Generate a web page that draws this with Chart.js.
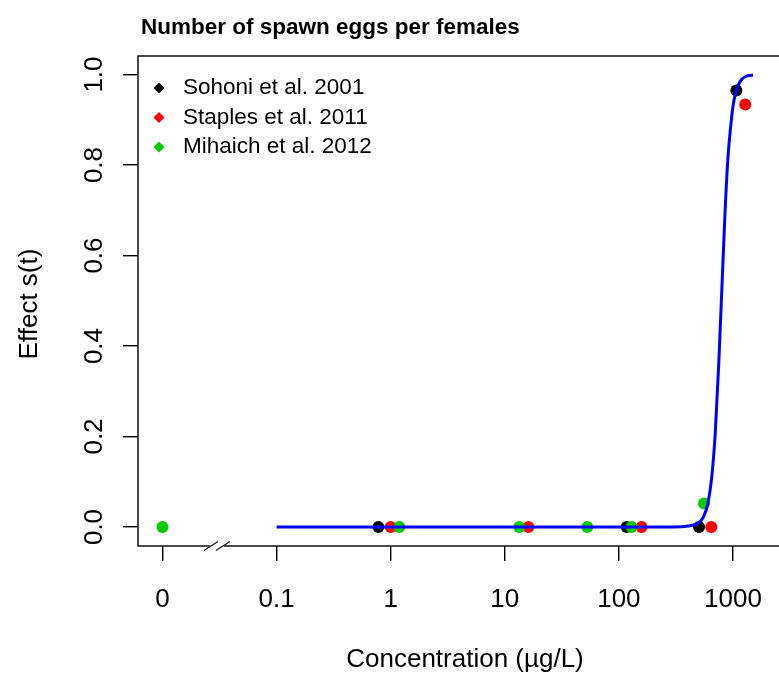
<!DOCTYPE html>
<html>
<head>
<meta charset="utf-8">
<script src="https://cdn.jsdelivr.net/npm/chart.js@4/dist/chart.umd.min.js"></script>
<style>
  html, body { margin: 0; padding: 0; background: #fff; overflow: hidden; }
  #wrap { width: 800px; height: 675px; }
</style>
</head>
<body>
<div id="wrap"><canvas id="c" width="800" height="675"></canvas></div>
<script>
// Observed effect on egg production, by study
const seriesNames = ['Sohoni et al. 2001', 'Staples et al. 2011', 'Mihaich et al. 2012'];
const sohoniConc = [0.78, 117, 504, 1070];
const sohoniEffect = [0, 0, 0, 0.965];
const staplesConc = [1.0, 16.1, 158, 645, 1280];
const staplesEffect = [0, 0, 0, 0, 0.934];
const mihaichConc = [0, 1.19, 13.4, 52.9, 129, 557];
const mihaichEffect = [0, 0, 0, 0, 0, 0.052];

// Fitted concentration-response curve
const fitConc = [0.1, 1, 10, 100, 300, 400, 500, 550, 600, 650, 700, 750, 800, 850, 900, 950, 1000, 1050, 1100, 1200, 1300, 1400, 1500];
const fitEffect = [0, 0, 0, 0, 0, 0.002, 0.009, 0.022, 0.05, 0.108, 0.21, 0.36, 0.53, 0.69, 0.81, 0.88, 0.93, 0.958, 0.974, 0.99, 0.996, 0.998, 0.999];

// Axis ticks
const xTickValues = [0, 0.1, 1, 10, 100, 1000];
const xTickLabels = ['0', '0.1', '1', '10', '100', '1000'];
const yTickValues = [0, 0.2, 0.4, 0.6, 0.8, 1.0];
const yTickLabels = ['0.0', '0.2', '0.4', '0.6', '0.8', '1.0'];

const seriesColors = ['#000000', '#ff0000', '#00cd00'];
const FONT = '"Liberation Sans", Arial, sans-serif';

// A zero concentration cannot sit on a log axis: it is drawn one decade
// below 0.1, with an axis break between it and the rest of the scale.
const ZERO_AT = 0.01;
const BREAK_AT = 0.03;
const toAxis = v => (v === 0 ? ZERO_AT : v);

const pts = (xs, ys) => xs.map((x, i) => ({ x: toAxis(x), y: ys[i] }));

const pointSets = [
  [sohoniConc, sohoniEffect],
  [staplesConc, staplesEffect],
  [mihaichConc, mihaichEffect]
].map(([xs, ys], i) => ({
  label: seriesNames[i],
  data: pts(xs, ys),
  backgroundColor: seriesColors[i],
  borderWidth: 0,
  pointRadius: 6,
  pointHoverRadius: 6,
  order: 3 - i
}));

const fitSet = {
  label: 'fit',
  data: pts(fitConc, fitEffect),
  showLine: true,
  borderColor: '#0000ff',
  borderWidth: 3,
  pointRadius: 0,
  cubicInterpolationMode: 'monotone',
  order: 0
};

const decorations = {
  id: 'decorations',
  afterDraw(chart) {
    const ctx = chart.ctx;
    const a = chart.chartArea;
    const xs = chart.scales.x, ys = chart.scales.y;
    ctx.save();

    // plot frame
    ctx.strokeStyle = '#000';
    ctx.lineWidth = 1.4;
    ctx.strokeRect(a.left, a.top, a.right - a.left, a.bottom - a.top);

    // axis break on the x axis
    const bx = xs.getPixelForValue(BREAK_AT);
    ctx.fillStyle = '#fff';
    ctx.fillRect(bx - 7, a.bottom - 2, 14, 4);
    ctx.strokeStyle = '#222';
    ctx.lineWidth = 1.4;
    [-6, 6].forEach(off => {
      ctx.beginPath();
      ctx.moveTo(bx + off - 7, a.bottom + 4.5);
      ctx.lineTo(bx + off + 7, a.bottom - 4.5);
      ctx.stroke();
    });

    // tick labels
    ctx.fillStyle = '#000';
    ctx.font = '26px ' + FONT;
    ctx.textAlign = 'center';
    ctx.textBaseline = 'middle';
    xs.ticks.forEach((t, i) => {
      ctx.fillText(xTickLabels[i], xs.getPixelForValue(t.value), 600);
    });
    ys.ticks.forEach((t, i) => {
      const py = ys.getPixelForValue(t.value);
      ctx.save();
      ctx.translate(95, py);
      ctx.rotate(-Math.PI / 2);
      ctx.fillText(yTickLabels[i], 0, 0);
      ctx.restore();
    });

    // axis titles
    ctx.fillText('Concentration (\u00b5g/L)', (a.left + a.right) / 2, 660);
    ctx.save();
    ctx.translate(30, (a.top + a.bottom) / 2 + 3);
    ctx.rotate(-Math.PI / 2);
    ctx.fillText('Effect s(t)', 0, 0);
    ctx.restore();

    // plot title
    ctx.font = 'bold 22.5px ' + FONT;
    ctx.textAlign = 'left';
    ctx.fillText('Number of spawn eggs per females', a.left + 3, 28);

    // legend
    ctx.font = '22.5px ' + FONT;
    pointSets.forEach((ds, i) => {
      const ly = 88 + i * 29.5;
      const lx = 159;
      ctx.fillStyle = ds.backgroundColor;
      ctx.beginPath();
      ctx.moveTo(lx, ly - 5.5);
      ctx.lineTo(lx + 5.5, ly);
      ctx.lineTo(lx, ly + 5.5);
      ctx.lineTo(lx - 5.5, ly);
      ctx.closePath();
      ctx.fill();
      ctx.fillStyle = '#000';
      ctx.fillText(ds.label, 183, ly);
    });
    ctx.restore();
  }
};

const tickGrid = {
  display: true,
  drawOnChartArea: false,
  drawTicks: true,
  tickLength: 15,
  color: '#000',
  lineWidth: 1.4
};

new Chart(document.getElementById('c'), {
  type: 'scatter',
  data: { datasets: [fitSet, ...pointSets] },
  options: {
    responsive: false,
    animation: false,
    devicePixelRatio: 1,
    layout: { padding: { top: 56, left: 0, right: 8, bottom: 0 } },
    plugins: { legend: { display: false }, tooltip: { enabled: false }, title: { display: false } },
    scales: {
      x: {
        type: 'logarithmic',
        min: 0.0061,
        max: 3290,
        afterBuildTicks: s => { s.ticks = xTickValues.map(v => ({ value: toAxis(v) })); },
        ticks: { display: false },
        grid: tickGrid,
        border: { display: false },
        afterFit: s => { s.height = 129; }
      },
      y: {
        type: 'linear',
        min: -0.042,
        max: 1.041,
        afterBuildTicks: s => { s.ticks = yTickValues.map(v => ({ value: v })); },
        ticks: { display: false },
        grid: tickGrid,
        border: { display: false },
        afterFit: s => { s.width = 138; }
      }
    }
  },
  plugins: [decorations]
});
</script>
</body>
</html>
